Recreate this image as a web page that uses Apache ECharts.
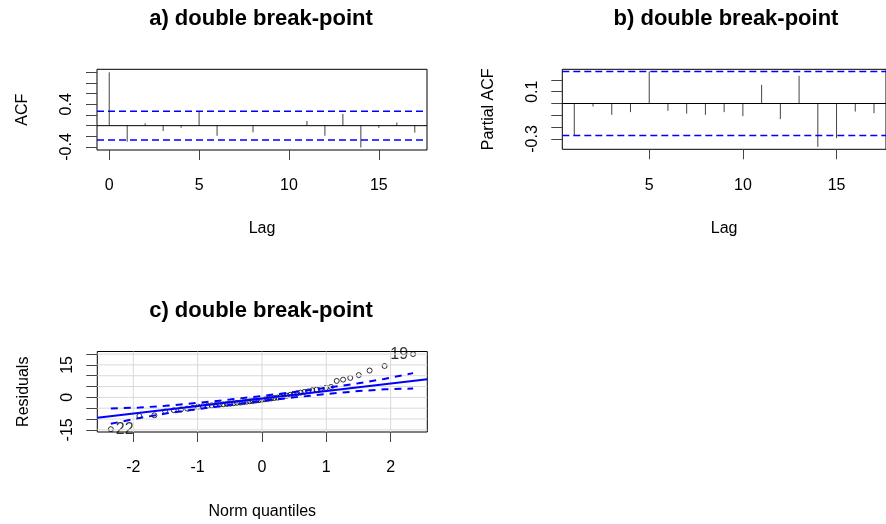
<!DOCTYPE html>
<html>
<head>
<meta charset="utf-8">
<script src="https://cdn.jsdelivr.net/npm/echarts@6/dist/echarts.min.js"></script>
<style>
  html, body { margin: 0; padding: 0; background: #fff; }
  #chart { width: 886px; height: 524px; }
</style>
</head>
<body>
<div id="chart"></div>
<script>
// a) ACF
var acfLags = [0, 1, 2, 3, 4, 5, 6, 7, 8, 9, 10, 11, 12, 13, 14, 15, 16, 17];
var acfValues = [1.0, -0.30, 0.044, -0.10, -0.04, 0.275, -0.19, 0.01, -0.125, -0.005, 0.005, 0.088, -0.19, 0.22, -0.41, -0.04, 0.06, -0.13];
var acfConf = 0.27;
// b) PACF
var pacfLags = [1, 2, 3, 4, 5, 6, 7, 8, 9, 10, 11, 12, 13, 14, 15, 16, 17];
var pacfValues = [-0.27, -0.025, -0.096, -0.073, 0.27, -0.062, -0.085, -0.096, -0.073, -0.107, 0.158, -0.132, 0.234, -0.366, -0.293, -0.068, -0.082];
var pacfConf = 0.27;
// c) QQ plot residuals
var qqTheo = [-2.349, -1.906, -1.673, -1.505, -1.372, -1.261, -1.162, -1.073, -0.993, -0.918,
  -0.848, -0.782, -0.720, -0.660, -0.602, -0.547, -0.492, -0.440, -0.388, -0.337,
  -0.287, -0.238, -0.190, -0.142, -0.095, -0.047, 0, 0.047, 0.095, 0.142,
  0.190, 0.238, 0.287, 0.337, 0.388, 0.440, 0.492, 0.547, 0.602, 0.660,
  0.720, 0.782, 0.848, 0.918, 0.993, 1.073, 1.162, 1.261, 1.372, 1.505,
  1.673, 1.906, 2.349];
var qqResid = [-14.7, -8.6, -8.3, -6.4, -5.9, -5.6, -5.2, -4.8, -4.3, -4.1,
  -3.9, -3.7, -3.5, -3.3, -3.2, -3.0, -2.9, -2.7, -2.5, -2.4,
  -2.2, -2.0, -1.8, -1.7, -1.5, -1.3, -1.1, -0.9, -0.7, -0.5,
  -0.3, -0.1, 0.2, 0.5, 0.8, 1.2, 1.5, 1.9, 2.2, 2.5,
  2.8, 3.3, 3.6, 4.0, 4.4, 4.8, 7.6, 8.2, 9.0, 10.3,
  12.4, 14.5, 20.0];
var qqPointLabels = { 0: '22', 52: '19' };
var fitX = [-2.56, 2.57];
var fitY = [-9.4, 8.4];
var envX = [-2.35, -1.9, -1.5, -1.0, -0.5, 0, 0.5, 1.0, 1.5, 1.9, 2.35];
var envUpper = [-5.1, -4.7, -3.9, -2.55, -1.0, 0.65, 2.45, 4.4, 6.5, 8.5, 11.2];
var envLower = [-12.2, -9.5, -7.5, -5.4, -3.5, -1.65, 0.0, 1.55, 2.9, 3.7, 4.1];

// 坐标轴刻度
var acfYTicks = [-0.4, -0.2, 0, 0.2, 0.4, 0.6, 0.8, 1.0];
var acfYLabels = [-0.4, 0.4];
var pacfYTicks = [-0.3, -0.2, -0.1, 0, 0.1, 0.2];
var pacfYLabels = [-0.3, 0.1];
var qqXTicks = [-2, -1, 0, 1, 2];
var qqYTicks = [-15, -10, -5, 0, 5, 10, 15, 20];
var qqYLabels = [-15, 0, 15];

var titles = ['a) double break-point', 'b) double break-point', 'c) double break-point'];

var chart = echarts.init(document.getElementById('chart'));
var font = 'Liberation Sans, Arial, sans-serif';
var txt = { fontFamily: font, fontSize: 16, color: '#000' };
var xRange = [[-0.68, 17.68], [0.36, 17.64], [-2.56, 2.57]];
var yRange = [[-0.456, 1.056], [-0.387, 0.289], [-16.0, 21.2]];

function zip(xs, ys) {
  var out = [];
  for (var i = 0; i < xs.length; i++) out.push([xs[i], ys[i]]);
  return out;
}

// 竖线（R 的 type = "h"）
function stemRender(params, api) {
  var base = api.coord([api.value(0), 0]);
  var tip = api.coord([api.value(0), api.value(1)]);
  return {
    type: 'line',
    shape: { x1: base[0], y1: base[1], x2: tip[0], y2: tip[1] },
    style: { stroke: '#444', lineWidth: 1 }
  };
}

function xAx(idx, ticks, name, gap) {
  return {
    gridIndex: idx, type: 'value', min: xRange[idx][0], max: xRange[idx][1],
    axisLine: { show: false, onZero: false },
    axisTick: { show: true, customValues: ticks, length: 10, lineStyle: { color: '#444' } },
    axisLabel: { customValues: ticks, margin: 28, fontFamily: font, fontSize: 16, color: '#000' },
    splitLine: { show: false },
    name: name, nameLocation: 'middle', nameGap: gap, nameTextStyle: txt
  };
}
function yAx(idx, ticks, labels, name) {
  return {
    gridIndex: idx, type: 'value', min: yRange[idx][0], max: yRange[idx][1],
    axisLine: { show: false, onZero: false },
    axisTick: { show: true, customValues: ticks, length: 11, lineStyle: { color: '#444' } },
    axisLabel: { customValues: labels, rotate: 90, margin: 22, fontFamily: font, fontSize: 16, color: '#000' },
    splitLine: { show: false },
    name: name, nameLocation: 'middle', nameRotate: 90, nameGap: 66, nameTextStyle: txt
  };
}
// 水平参考线：0 线（实线）与置信界（虚线）
function hLine(idx, v, style) {
  return {
    type: 'line', xAxisIndex: idx, yAxisIndex: idx, silent: true, symbol: 'none',
    color: style.color, itemStyle: { color: style.color },
    data: [[xRange[idx][0], v], [xRange[idx][1], v]],
    lineStyle: Object.assign({}, style)
  };
}
function vLine(idx, v, style) {
  return {
    type: 'line', xAxisIndex: idx, yAxisIndex: idx, silent: true, symbol: 'none',
    color: style.color, itemStyle: { color: style.color },
    data: [[v, yRange[idx][0]], [v, yRange[idx][1]]],
    lineStyle: Object.assign({}, style)
  };
}
var zeroStyle = { color: '#000', width: 1 };
var confStyle = { color: '#0000ff', width: 1.5, type: [7, 4] };
var gridStyle = { color: '#d9d9d9', width: 1 };

var qqData = qqTheo.map(function (x, i) {
  var item = { value: [x, qqResid[i]] };
  if (qqPointLabels[i]) {
    item.label = {
      show: true, formatter: qqPointLabels[i], position: i === 0 ? 'right' : 'left',
      distance: 2, fontFamily: font, fontSize: 16, color: '#000'
    };
  }
  return item;
});

var series = [];
// c) 背景网格线
qqXTicks.forEach(function (v) { series.push(vLine(2, v, gridStyle)); });
qqYTicks.forEach(function (v) { series.push(hLine(2, v, gridStyle)); });
series.push(
  hLine(0, 0, zeroStyle),
  hLine(0, acfConf, confStyle),
  hLine(0, -acfConf, confStyle),
  { type: 'custom', xAxisIndex: 0, yAxisIndex: 0, renderItem: stemRender, data: zip(acfLags, acfValues) },
  hLine(1, 0, zeroStyle),
  hLine(1, pacfConf, confStyle),
  hLine(1, -pacfConf, confStyle),
  { type: 'custom', xAxisIndex: 1, yAxisIndex: 1, renderItem: stemRender, data: zip(pacfLags, pacfValues) },
  {
    type: 'line', xAxisIndex: 2, yAxisIndex: 2, data: zip(fitX, fitY), symbol: 'none',
    color: '#0000ff', lineStyle: { color: '#0000ff', width: 2 }
  },
  {
    type: 'line', xAxisIndex: 2, yAxisIndex: 2, data: zip(envX, envUpper), symbol: 'none',
    color: '#0000ff', lineStyle: { color: '#0000ff', width: 2, type: [7, 6] }
  },
  {
    type: 'line', xAxisIndex: 2, yAxisIndex: 2, data: zip(envX, envLower), symbol: 'none',
    color: '#0000ff', lineStyle: { color: '#0000ff', width: 2, type: [7, 6] }
  },
  {
    type: 'scatter', xAxisIndex: 2, yAxisIndex: 2, data: qqData, symbol: 'circle', symbolSize: 5,
    itemStyle: { color: 'transparent', borderColor: '#000', borderWidth: 1 }
  }
);

var titleStyle = { fontFamily: font, fontSize: 22, fontWeight: 'bold', color: '#000' };
var option = {
  animation: false,
  backgroundColor: '#fff',
  title: [
    { text: titles[0], left: 256, top: 3, textAlign: 'center', textStyle: titleStyle },
    { text: titles[1], left: 721, top: 3, textAlign: 'center', textStyle: titleStyle },
    { text: titles[2], left: 256, top: 295, textAlign: 'center', textStyle: titleStyle }
  ],
  grid: [
    { left: 97, top: 69.3, width: 330, height: 80.7, show: true, borderColor: '#000', borderWidth: 1, backgroundColor: 'transparent' },
    { left: 562.3, top: 69.3, width: 330, height: 80, show: true, borderColor: '#000', borderWidth: 1, backgroundColor: 'transparent' },
    { left: 97.3, top: 351.5, width: 330, height: 80.5, show: true, borderColor: '#000', borderWidth: 1, backgroundColor: 'transparent' }
  ],
  xAxis: [
    xAx(0, [0, 5, 10, 15], 'Lag', 71),
    xAx(1, [5, 10, 15], 'Lag', 71),
    xAx(2, qqXTicks, 'Norm quantiles', 72)
  ],
  yAxis: [
    yAx(0, acfYTicks, acfYLabels, 'ACF'),
    yAx(1, pacfYTicks, pacfYLabels, 'Partial ACF'),
    yAx(2, qqYTicks, qqYLabels, 'Residuals')
  ],
  series: series
};
chart.setOption(option);
</script>
</body>
</html>
